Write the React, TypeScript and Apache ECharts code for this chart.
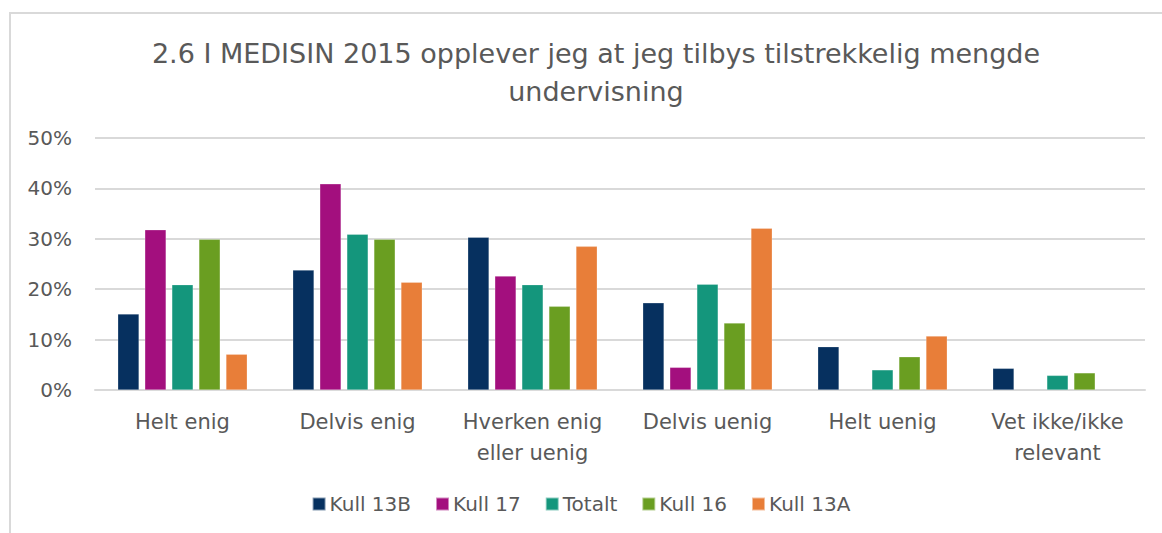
import React, { useEffect, useRef } from "react";
import * as echarts from "echarts";

const categories = [
  "Helt enig",
  "Delvis enig",
  "Hverken enig\neller uenig",
  "Delvis uenig",
  "Helt uenig",
  "Vet ikke/ikke\nrelevant",
];
const seriesNames = ["Kull 13B", "Kull 17", "Totalt", "Kull 16", "Kull 13A"];
const kull13B = [0.151, 0.238, 0.303, 0.173, 0.086, 0.043];
const kull17 = [0.318, 0.409, 0.226, 0.045, null, null];
const totalt = [0.209, 0.309, 0.209, 0.21, 0.04, 0.029];
const kull16 = [0.299, 0.299, 0.166, 0.133, 0.066, 0.034];
const kull13A = [0.071, 0.214, 0.285, 0.321, 0.107, null];
const colors = ["#06305F", "#A30F7E", "#14967C", "#6A9E21", "#E87E39"];
const titleText = "2.6 I MEDISIN 2015 opplever jeg at jeg tilbys tilstrekkelig mengde\nundervisning";

const FONT = "DejaVu Sans";

export default function App() {
  const ref = useRef<HTMLDivElement>(null);
  useEffect(() => {
    document.body.style.margin = "0";
    const chart = echarts.init(ref.current!, null, { renderer: "svg" });
    const values = [kull13B, kull17, totalt, kull16, kull13A];
    chart.setOption({
      animation: false,
      backgroundColor: "#ffffff",
      color: colors,
      title: {
        text: titleText,
        left: 591,
        textAlign: "center",
        top: 29,
        textStyle: {
          fontFamily: FONT,
          fontSize: 27,
          fontWeight: "normal",
          color: "#595959",
          lineHeight: 38,
        },
      },
      graphic: [
        {
          type: "rect",
          shape: { x: 10, y: 13, width: 1170, height: 540 },
          style: { fill: "none", stroke: "#d9d9d9", lineWidth: 2 },
          silent: true,
        },
      ],
      legend: {
        top: 489,
        left: "center",
        itemWidth: 13,
        itemHeight: 13,
        itemGap: 24,
        icon: "rect",
        textStyle: { fontFamily: FONT, fontSize: 20, color: "#595959", padding: [0, 0, 0, -1] },
        data: seriesNames,
      },
      grid: { left: 95, right: 17, top: 138, bottom: 143 },
      xAxis: {
        type: "category",
        data: categories,
        axisLine: { lineStyle: { color: "#d9d9d9", width: 2 } },
        axisTick: { show: false },
        axisLabel: {
          fontFamily: FONT,
          fontSize: 21,
          color: "#595959",
          margin: 16,
          lineHeight: 31,
          interval: 0,
        },
      },
      yAxis: {
        type: "value",
        min: 0,
        max: 0.5,
        interval: 0.1,
        axisLabel: {
          fontFamily: FONT,
          fontSize: 20,
          color: "#595959",
          margin: 23,
          formatter: (v: number) => Math.round(v * 100) + "%",
        },
        splitLine: { lineStyle: { color: "#d9d9d9", width: 2 } },
        axisLine: { show: false },
        axisTick: { show: false },
      },
      series: seriesNames.map((name, i) => ({
        name,
        type: "bar",
        data: values[i],
        barGap: "27%",
        barCategoryGap: "26%",
        itemStyle: { borderColor: "rgba(255,255,255,0.5)", borderWidth: 0.5 },
      })),
    });
    return () => chart.dispose();
  }, []);
  return <div ref={ref} style={{ width: 1162, height: 533 }} />;
}
